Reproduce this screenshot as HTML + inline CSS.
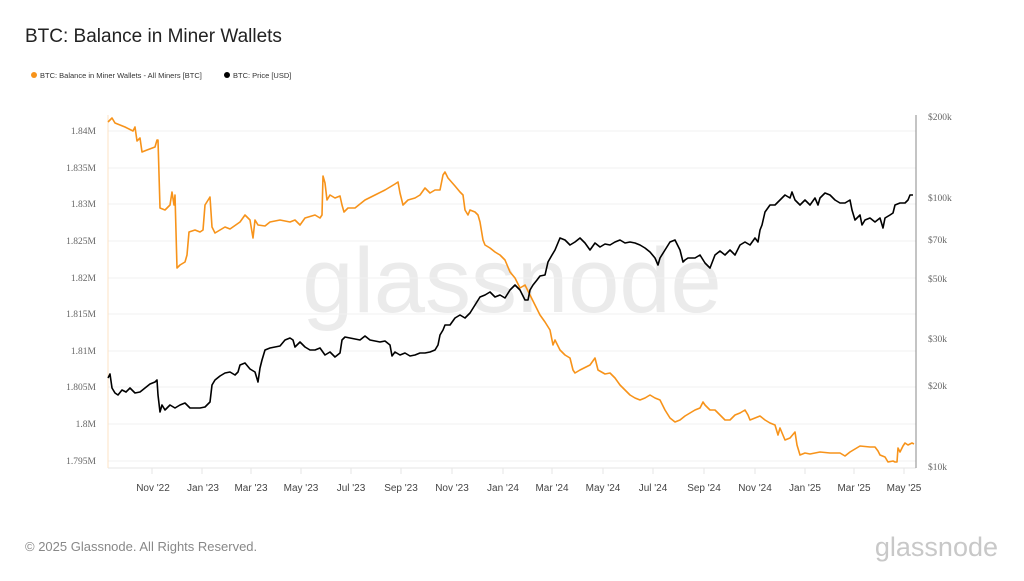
<!DOCTYPE html><html><head><style>body{margin:0;background:#fff;width:1024px;height:576px;overflow:hidden;font-family:"Liberation Sans",sans-serif}</style></head><body>
<svg width="1024" height="576" xmlns="http://www.w3.org/2000/svg" font-family="Liberation Sans, sans-serif">
<text x="25" y="42" font-size="19" fill="#222">BTC: Balance in Miner Wallets</text>
<circle cx="34" cy="75" r="3" fill="#f7931a"/><text x="40" y="78" font-size="7.5" fill="#333">BTC: Balance in Miner Wallets - All Miners [BTC]</text>
<circle cx="227" cy="75" r="3" fill="#000"/><text x="233" y="78" font-size="7.5" fill="#333">BTC: Price [USD]</text>
<text x="512" y="312" font-size="92" fill="#ebebeb" text-anchor="middle">glassnode</text>
<g stroke="#f0f0f0" stroke-width="1">
<line x1="108" x2="916" y1="131" y2="131"/><line x1="108" x2="916" y1="168" y2="168"/><line x1="108" x2="916" y1="204" y2="204"/><line x1="108" x2="916" y1="241" y2="241"/><line x1="108" x2="916" y1="278" y2="278"/><line x1="108" x2="916" y1="314" y2="314"/><line x1="108" x2="916" y1="351" y2="351"/><line x1="108" x2="916" y1="387" y2="387"/><line x1="108" x2="916" y1="424" y2="424"/><line x1="108" x2="916" y1="461" y2="461"/></g>
<line x1="108" x2="916" y1="468" y2="468" stroke="#e6e6e6"/>
<line x1="108" x2="108" y1="115" y2="468" stroke="#fde3c4"/>
<line x1="916" x2="916" y1="115" y2="468" stroke="#888"/>
<g font-family="Liberation Serif, serif" font-size="9.5" fill="#666" text-anchor="end">
<text x="96" y="134">1.84M</text><text x="96" y="171">1.835M</text><text x="96" y="207">1.83M</text><text x="96" y="244">1.825M</text><text x="96" y="281">1.82M</text><text x="96" y="317">1.815M</text><text x="96" y="354">1.81M</text><text x="96" y="390">1.805M</text><text x="96" y="427">1.8M</text><text x="96" y="464">1.795M</text></g>
<g font-family="Liberation Serif, serif" font-size="9.5" fill="#666">
<text x="928" y="120">$200k</text><text x="928" y="201">$100k</text><text x="928" y="243">$70k</text><text x="928" y="282">$50k</text><text x="928" y="342">$30k</text><text x="928" y="389">$20k</text><text x="928" y="470">$10k</text></g>
<g stroke="#e6e6e6"><line x1="152" x2="152" y1="468" y2="474"/><line x1="202" x2="202" y1="468" y2="474"/><line x1="251" x2="251" y1="468" y2="474"/><line x1="301" x2="301" y1="468" y2="474"/><line x1="351" x2="351" y1="468" y2="474"/><line x1="401" x2="401" y1="468" y2="474"/><line x1="452" x2="452" y1="468" y2="474"/><line x1="503" x2="503" y1="468" y2="474"/><line x1="552" x2="552" y1="468" y2="474"/><line x1="603" x2="603" y1="468" y2="474"/><line x1="653" x2="653" y1="468" y2="474"/><line x1="704" x2="704" y1="468" y2="474"/><line x1="755" x2="755" y1="468" y2="474"/><line x1="805" x2="805" y1="468" y2="474"/><line x1="854" x2="854" y1="468" y2="474"/><line x1="904" x2="904" y1="468" y2="474"/></g>
<g font-size="10" fill="#444" text-anchor="middle">
<text x="153" y="491">Nov '22</text><text x="203" y="491">Jan '23</text><text x="251" y="491">Mar '23</text><text x="301" y="491">May '23</text><text x="351" y="491">Jul '23</text><text x="401" y="491">Sep '23</text><text x="452" y="491">Nov '23</text><text x="503" y="491">Jan '24</text><text x="552" y="491">Mar '24</text><text x="603" y="491">May '24</text><text x="653" y="491">Jul '24</text><text x="704" y="491">Sep '24</text><text x="755" y="491">Nov '24</text><text x="805" y="491">Jan '25</text><text x="854" y="491">Mar '25</text><text x="904" y="491">May '25</text></g>
<polyline fill="none" stroke="#f7931a" stroke-width="1.6" stroke-linejoin="round" points="108,122 112,118 115,123 125,127 133,131 135,127 137,141 140,138 142,152 147,150 155,147 157,140 158,140 160,208 165,210 170,205 172,192 174,205 175,195 177,268 180,265 185,262 187,255 189,232 195,230 200,232 203,230 205,205 210,197 212,227 215,233 220,230 225,227 230,229 240,222 245,215 250,220 253,238 255,220 258,225 265,226 270,222 280,220 290,222 295,220 300,225 305,218 315,215 320,218 322,215 323,176 325,183 327,200 330,195 335,198 340,196 342,205 344,212 348,208 355,208 365,200 375,195 385,190 395,184 398,182 400,193 403,205 408,200 415,198 420,195 425,188 430,193 435,190 440,190 443,175 445,172 448,178 455,186 460,192 463,195 465,210 468,215 470,210 475,212 478,215 480,222 483,240 485,245 490,248 495,252 500,255 505,260 510,272 515,278 520,288 525,285 530,295 535,305 540,315 545,322 550,330 553,345 555,340 560,350 565,355 570,358 573,370 575,373 580,370 590,365 595,358 598,370 605,374 610,373 615,378 620,385 625,390 630,395 635,398 640,400 645,398 650,395 655,398 660,400 665,410 670,418 675,422 680,420 685,416 690,413 695,410 700,408 703,402 705,405 710,410 715,410 720,415 725,420 730,420 735,415 740,413 745,410 748,415 750,420 755,418 760,416 765,420 770,423 775,425 778,435 780,428 785,440 790,438 795,432 797,445 800,455 805,453 810,454 815,453 820,452 830,453 840,453 845,456 850,452 855,449 860,446 870,447 875,447 878,451 880,455 885,457 888,462 893,461 895,462 897,462 898,448 900,452 903,446 905,443 908,445 912,443 914,444"/>
<polyline fill="none" stroke="#000" stroke-width="1.6" stroke-linejoin="round" points="108,378 110,374 112,388 115,393 118,395 122,390 126,392 130,388 135,393 140,392 145,388 150,384 155,382 157,380 158,395 160,412 162,405 165,410 170,405 175,408 180,405 185,403 190,408 195,408 200,408 205,407 210,402 212,385 215,380 220,376 225,373 230,372 235,375 238,372 240,365 245,363 250,369 255,372 258,382 260,368 262,360 265,350 270,348 280,346 285,340 290,338 293,340 295,347 300,342 305,347 310,350 315,350 320,348 325,355 330,352 335,357 340,353 342,340 345,337 350,338 360,340 365,336 370,340 380,342 385,341 390,345 392,356 395,352 400,355 405,353 410,356 415,355 420,353 425,353 430,352 435,350 438,345 440,335 443,330 445,325 450,325 455,318 460,315 465,318 470,313 475,305 480,297 485,295 490,292 495,297 500,295 505,298 510,290 515,285 520,290 525,300 528,300 530,290 533,285 537,280 540,276 545,275 548,262 552,255 555,250 560,238 565,240 570,245 575,242 580,238 585,243 590,250 595,243 600,247 605,244 610,245 615,242 620,240 625,243 630,242 635,243 640,245 645,248 650,252 655,258 658,265 660,258 665,250 670,242 675,240 680,250 683,262 685,260 688,258 695,258 700,255 705,263 710,268 715,255 720,251 725,255 730,250 735,255 740,245 745,242 750,245 755,238 758,242 760,230 762,225 765,212 770,205 775,205 780,200 785,195 790,198 792,192 795,200 800,205 805,200 810,205 815,198 818,205 820,198 825,193 830,195 835,200 840,203 845,203 850,200 852,210 855,220 860,215 862,225 865,220 870,218 875,222 880,218 883,228 885,218 890,215 893,213 895,205 900,203 905,203 908,200 910,195 913,195"/>
<text x="25" y="551" font-size="13" fill="#888">© 2025 Glassnode. All Rights Reserved.</text>
<text x="998" y="556" font-size="27" fill="#c8c8c8" text-anchor="end">glassnode</text>
</svg></body></html>
